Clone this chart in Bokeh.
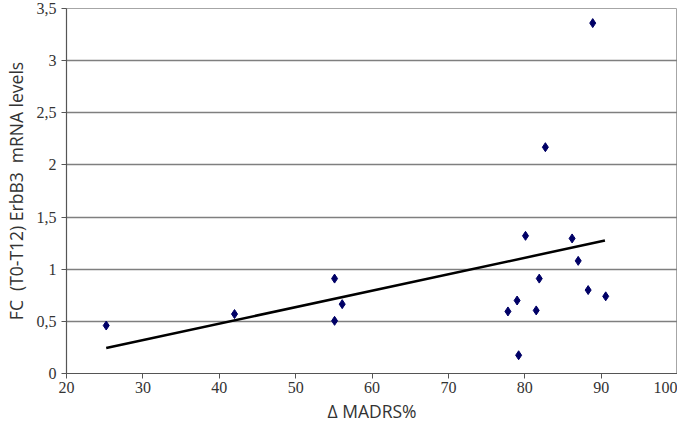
from bokeh.plotting import figure
from bokeh.models import Range1d, FixedTicker
from bokeh.embed import file_html
from bokeh.resources import INLINE

madrs = [25.2, 42.0, 55.1, 55.1, 56.1, 77.8, 79.0, 79.2, 80.1, 81.5, 81.9, 82.7, 86.2, 87.0, 88.3, 88.9, 90.6]
erbb3 = [0.46, 0.57, 0.91, 0.505, 0.665, 0.595, 0.70, 0.175, 1.32, 0.605, 0.91, 2.17, 1.295, 1.08, 0.80, 3.36, 0.74]

trend_x = [25.2, 90.5]
trend_y = [0.245, 1.275]

x_ticks = [20, 30, 40, 50, 60, 70, 80, 90, 100]
y_ticks = [0, 0.5, 1, 1.5, 2, 2.5, 3, 3.5]
y_tick_labels = ["0", "0,5", "1", "1,5", "2", "2,5", "3", "3,5"]

p = figure(width=677, height=425, output_backend="svg", toolbar_location=None,
           x_range=Range1d(20, 100), y_range=Range1d(0, 3.5),
           min_border_left=54, min_border_right=0, min_border_top=8, min_border_bottom=30)

p.background_fill_color = "white"
p.border_fill_color = "white"
p.outline_line_color = "#a6a6a6"
p.outline_line_width = 1

p.xgrid.visible = False
p.ygrid.grid_line_color = "#7f7f7f"
p.ygrid.grid_line_width = 1.5

tick_font = "Liberation Sans Narrow"
for ax in (p.xaxis[0], p.yaxis[0]):
    ax.axis_line_color = "#555555"
    ax.axis_line_width = 1.2
    ax.major_tick_line_color = "#555555"
    ax.major_tick_in = 0
    ax.major_tick_out = 5
    ax.minor_tick_line_color = None
    ax.major_label_text_font = tick_font
    ax.major_label_text_font_size = "16px"
    ax.major_label_text_color = "#333333"
    ax.axis_label_text_font = "Open Sans"
    ax.axis_label_text_font_style = "normal"
    ax.axis_label_text_font_size = "17.5px"
    ax.axis_label_text_color = "#333333"

p.xaxis.ticker = FixedTicker(ticks=x_ticks)
p.yaxis.ticker = FixedTicker(ticks=y_ticks)
p.yaxis.major_label_overrides = {t: s for t, s in zip(y_ticks, y_tick_labels)}
p.xaxis.axis_label = "Δ MADRS%"
p.yaxis.axis_label = "FC\u00a0\u00a0(T0-T12) ErbB3\u00a0\u00a0mRNA levels"
p.xaxis.axis_label_standoff = 3
p.yaxis.axis_label_standoff = 6
p.xaxis.major_label_standoff = 3
p.yaxis.major_label_standoff = 5

p.line(trend_x, trend_y, line_color="black", line_width=2.5)
p.scatter(madrs, erbb3, marker="diamond", size=9, fill_color="#000066", line_color="#000066")

open("out.html", "w").write(file_html(p, INLINE))
